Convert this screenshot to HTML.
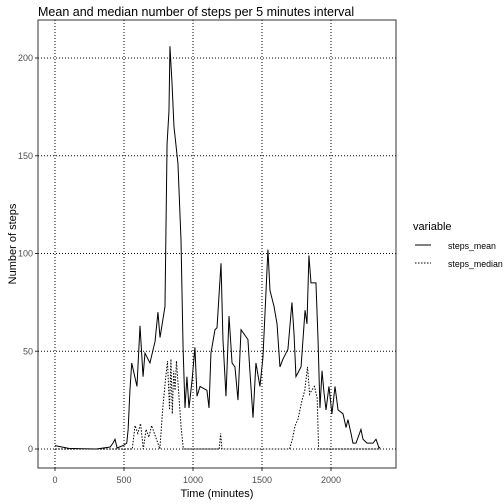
<!DOCTYPE html>
<html><head><meta charset="utf-8"><style>
body{margin:0;background:#fff;}
svg{display:block;font-family:"Liberation Sans",sans-serif;}
</style></head><body>
<svg id="chart" width="504" height="504">
<rect width="504" height="504" fill="#fff"/>
<text x="38" y="16" font-size="12.5">Mean and median number of steps per 5 minutes interval</text>
<g id="grid"></g>
<g id="series"></g>
<rect x="38" y="20" width="358" height="448" fill="none" stroke="#333" stroke-width="1"/>
<g id="axes"></g>
<text x="217" y="497" font-size="11" text-anchor="middle">Time (minutes)</text>
<text transform="translate(16,244) rotate(-90)" font-size="11" text-anchor="middle">Number of steps</text>
<g>
<text x="413" y="230" font-size="11">variable</text>
<g><line x1="415" y1="245" x2="431" y2="245" stroke="#000" stroke-width="1"/><text x="448" y="249" font-size="8.8">steps_mean</text></g>
<g><line x1="415" y1="263" x2="431" y2="263" stroke="#000" stroke-width="1" stroke-dasharray="1.5,1.5"/><text x="448" y="267" font-size="8.8">steps_median</text></g>
</g>
</svg>
<script>
const xTicks=[0,500,1000,1500,2000];
const yTicks=[0,50,100,150,200];
const meanX=[0,100,200,300,400,420,435,450,500,520,530,543,556,594,616,638,652,688,725,746,761,797,812,826,833,848,862,891,913,928,942,956,971,993,1014,1029,1051,1101,1116,1130,1159,1174,1203,1217,1239,1261,1283,1304,1326,1348,1398,1413,1435,1456,1485,1507,1543,1558,1587,1609,1630,1652,1688,1717,1732,1746,1783,1812,1826,1840,1855,1891,1906,1920,1935,1949,1964,1985,2007,2029,2051,2087,2109,2123,2145,2159,2181,2217,2232,2261,2304,2326,2348,2355];
const meanY=[1.7,0.3,0.1,0,1,3,5,0.5,2,3,10,30,44,32,63,37,49,44,55,70,57,73,156,173,206,187,165,146,107,52,21,37,21,35,52,27,32,30,21,49,61,62,95,56,27,68,44,42,25,61,56,39,16,44,32,47,102,81,73,64,42,46,51,75,59,37,42,71,64,99,85,85,56,21,40,29,20,32,18,32,20,18,11,15,8,3,3,10,5,3,3,5,0.5,1];
const medX=[0,540,560,580,600,620,640,660,680,700,760,780,800,815,830,840,850,860,870,880,900,915,930,1000,1190,1200,1210,1700,1720,1740,1760,1790,1810,1830,1845,1860,1880,1900,1910,2355];
const medY=[0,0,0,12,8,13,0,10,6,12,0,20,35,45,20,46,18,40,30,45,25,10,0,0,0,8,0,0,5,12,15,25,30,42,28,30,32,26,0,0];
const NS='http://www.w3.org/2000/svg';
const x=v=>55+v*69/500, y=v=>449-v*1.955;
const grid=document.getElementById('grid'),axes=document.getElementById('axes'),ser=document.getElementById('series');
function mk(t,a,p){const e=document.createElementNS(NS,t);for(const k in a)e.setAttribute(k,a[k]);p.appendChild(e);return e;}
xTicks.forEach(t=>{
 const g=mk('line',{x1:x(t),x2:x(t),y1:20,y2:468,stroke:'#000','stroke-dasharray':'1,2'},grid);
 
 
 mk('line',{x1:x(t),x2:x(t),y1:468,y2:471,stroke:'#333'},axes);
 const l=mk('text',{x:x(t),y:483,'font-size':9,'text-anchor':'middle',fill:'#4d4d4d'},axes);l.textContent=t;
 
 
});
yTicks.forEach(t=>{
 const g=mk('line',{x1:38,x2:396,y1:y(t),y2:y(t),stroke:'#000','stroke-dasharray':'1,2'},grid);
 
 
 mk('line',{x1:35,x2:38,y1:y(t),y2:y(t),stroke:'#333'},axes);
 const l=mk('text',{x:33,y:y(t)+3,'font-size':9,'text-anchor':'end',fill:'#4d4d4d'},axes);l.textContent=t;
 
 
});
const pm=mk('polyline',{points:meanX.map((v,i)=>x(v)+','+y(meanY[i])).join(' '),fill:'none',stroke:'#000','stroke-width':1},ser);


const pd=mk('polyline',{points:medX.map((v,i)=>x(v)+','+y(medY[i])).join(' '),fill:'none',stroke:'#000','stroke-width':1,'stroke-dasharray':'1.5,1.5'},ser);


</script>
</body></html>
